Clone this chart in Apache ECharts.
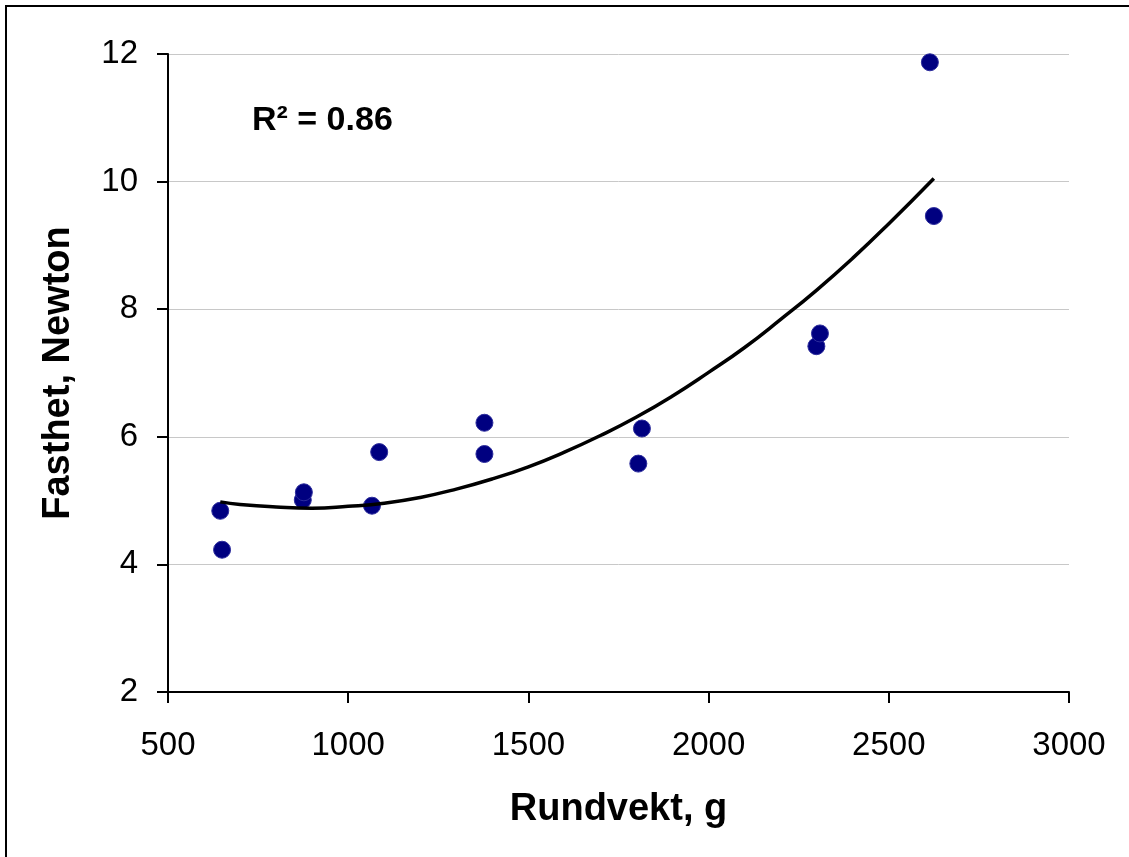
<!DOCTYPE html>
<html>
<head>
<meta charset="utf-8">
<script src="https://cdn.jsdelivr.net/npm/echarts@6/dist/echarts.min.js"></script>
<style>
  html, body { margin: 0; padding: 0; background: #ffffff; }
  #chart { width: 1129px; height: 857px; }
</style>
</head>
<body>
<div id="chart"></div>
<script>
// Measured fish: round weight (g) and fillet firmness (N)
const weight   = [645, 650, 874, 877, 1066, 1086, 1378, 1378, 1805, 1815, 2299, 2309, 2614, 2625];
const firmness = [4.84, 4.23, 5.01, 5.13, 4.92, 5.76, 6.22, 5.73, 5.58, 6.13, 7.42, 7.62, 11.87, 9.46];

// Second-order trend line, sampled along the weight range
const trendWeight   = [645, 700, 800, 900, 1000, 1100, 1200, 1300, 1400, 1500, 1600, 1700, 1800, 1900, 2000, 2100, 2200, 2300, 2400, 2500, 2625];
const trendFirmness = [4.98, 4.94, 4.90, 4.88, 4.91, 4.96, 5.05, 5.18, 5.34, 5.53, 5.76, 6.02, 6.31, 6.64, 7.01, 7.40, 7.84, 8.30, 8.80, 9.34, 10.05];

const xTicks = { min: 500, max: 3000, step: 500 };
const yTicks = { min: 2, max: 12, step: 2 };
const fitLabel = 'R\u00B2 = 0.86';

const FONT = "'Liberation Sans', Arial, sans-serif";

const chart = echarts.init(document.getElementById('chart'), null, { renderer: 'canvas' });

const points = weight.map((w, i) => [w, firmness[i]]);
const trend = trendWeight.map((w, i) => [w, trendFirmness[i]]);

chart.setOption({
  backgroundColor: '#ffffff',
  animation: false,
  textStyle: { fontFamily: FONT, color: '#000' },
  grid: { left: 168, right: 60, top: 54, bottom: 165, containLabel: false },
  xAxis: {
    type: 'value',
    min: xTicks.min, max: xTicks.max, interval: xTicks.step,
    name: 'Rundvekt, g',
    nameLocation: 'middle',
    nameGap: 99,
    nameTextStyle: { fontFamily: FONT, fontSize: 38, fontWeight: 'bold', color: '#000' },
    axisLine: { show: true, onZero: false, lineStyle: { color: '#000', width: 2 } },
    axisTick: { show: true, length: 11, lineStyle: { color: '#000', width: 2 } },
    axisLabel: { fontFamily: FONT, fontSize: 33, color: '#000', margin: 37, formatter: v => String(v) },
    splitLine: { show: false }
  },
  yAxis: {
    type: 'value',
    min: yTicks.min, max: yTicks.max, interval: yTicks.step,
    name: 'Fasthet, Newton',
    nameLocation: 'middle',
    nameGap: 90,
    nameRotate: 90,
    nameTextStyle: { fontFamily: FONT, fontSize: 38, fontWeight: 'bold', color: '#000' },
    axisLine: { show: true, onZero: false, lineStyle: { color: '#000', width: 2 } },
    axisTick: { show: true, length: 11, lineStyle: { color: '#000', width: 2 } },
    axisLabel: { fontFamily: FONT, fontSize: 33, color: '#000', margin: 30, formatter: v => String(v) },
    splitLine: { show: true, lineStyle: { color: '#c8c8c8', width: 1 } }
  },
  graphic: [
    {
      type: 'rect',
      x: 0, y: 0, z: 0, silent: true,
      shape: { x: 6, y: 6, width: 1300, height: 1000 },
      style: { fill: 'none', stroke: '#000', lineWidth: 2 }
    },
    {
      type: 'text',
      left: 252, top: 104, z: 10,
      style: { text: fitLabel, fontFamily: FONT, fontSize: 34, fontWeight: 'bold', fill: '#000' }
    }
  ],
  series: [
    {
      type: 'scatter',
      data: points,
      symbol: 'circle',
      symbolSize: 17,
      itemStyle: { color: '#000080', opacity: 1, borderColor: '#2c2c9c', borderWidth: 1 },
      z: 2
    },
    {
      type: 'line',
      data: trend,
      smooth: true,
      showSymbol: false,
      lineStyle: { color: '#000', width: 3.5 },
      z: 3
    }
  ]
});
</script>
</body>
</html>
